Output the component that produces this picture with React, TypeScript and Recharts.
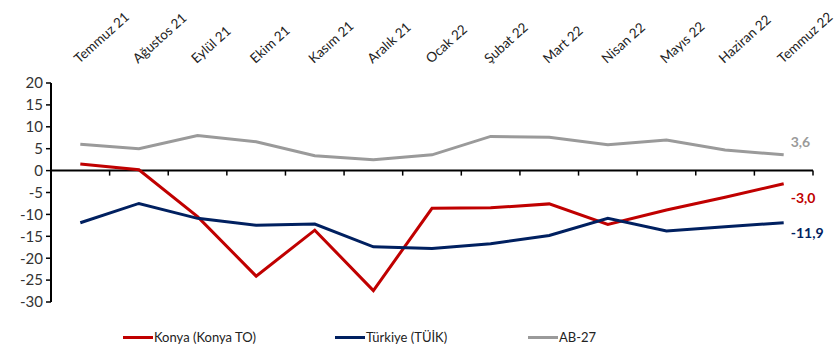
import React from "react";
import {
  LineChart,
  Line,
  XAxis,
  YAxis,
  ReferenceLine,
  LabelList,
  Legend,
} from "recharts";

// months, Temmuz 21 .. Temmuz 22
const months = [
  "Temmuz 21", "Ağustos 21", "Eylül 21", "Ekim 21", "Kasım 21", "Aralık 21",
  "Ocak 22", "Şubat 22", "Mart 22", "Nisan 22", "Mayıs 22", "Haziran 22", "Temmuz 22",
];

const konya = [1.5, 0.2, -10.5, -24.1, -13.6, -27.4, -8.6, -8.5, -7.6, -12.3, -9.0, -6.1, -3.0];
const turkiye = [-11.9, -7.5, -10.9, -12.5, -12.2, -17.4, -17.8, -16.7, -14.8, -10.9, -13.8, -12.8, -11.9];
const ab27 = [6.0, 5.0, 8.0, 6.6, 3.4, 2.5, 3.6, 7.8, 7.6, 5.9, 7.0, 4.7, 3.6];

const yTicks = [-30, -25, -20, -15, -10, -5, 0, 5, 10, 15, 20];

const RED = "#C00000";
const NAVY = "#002060";
const GRAY = "#9A9A9A";
const FONT = "Lato, 'Open Sans', sans-serif";

const series = [
  { key: "konya", name: "Konya (Konya TO)", color: RED, values: konya, dy: 14 },
  { key: "turkiye", name: "Türkiye (TÜİK)", color: NAVY, values: turkiye, dy: 10 },
  { key: "ab27", name: "AB-27", color: GRAY, values: ab27, dy: -13 },
];

const data = months.map((m, i) => ({
  month: m,
  konya: konya[i],
  turkiye: turkiye[i],
  ab27: ab27[i],
}));

const fmt = (v: number) => v.toFixed(1).replace(".", ",");

const MonthTick = (props: any) => {
  const { x, y, payload } = props;
  const tx = x - 1;
  const ty = y - 19;
  return (
    <text
      x={tx}
      y={ty}
      transform={`rotate(-42, ${tx}, ${ty})`}
      textAnchor="start"
      fontSize={13.5}
      fontFamily={FONT}
      fill="#222"
    >
      {payload.value}
    </text>
  );
};

// zero line with small tick marks at the category boundaries
const ZeroLine = (props: any) => {
  const { x1, y1, x2 } = props;
  const step = (x2 - x1) / months.length;
  return (
    <g>
      <line x1={x1} y1={y1} x2={x2} y2={y1} stroke="#000" strokeWidth={2} />
      {months.map((_, i) => (
        <line
          key={i}
          x1={x1 + step * (i + 1)}
          x2={x1 + step * (i + 1)}
          y1={y1}
          y2={y1 + 5}
          stroke="#000"
          strokeWidth={1.5}
        />
      ))}
    </g>
  );
};

const endLabel = (color: string, dy: number) => (props: any) => {
  const { x, y, value, index } = props;
  if (index !== months.length - 1) return null;
  return (
    <text
      x={x + 7}
      y={y + dy}
      dominantBaseline="central"
      fontSize={14}
      fontWeight="bold"
      fontFamily={FONT}
      fill={color}
    >
      {fmt(value)}
    </text>
  );
};

const widths = [212, 193, 80];

const CustomLegend = () => (
  <div style={{ display: "flex", fontFamily: FONT, fontSize: 13, color: "#222" }}>
    {series.map((s, i) => (
      <div key={s.key} style={{ width: widths[i], display: "flex", alignItems: "center" }}>
        <span style={{ display: "inline-block", width: 30, height: 3, background: s.color, marginRight: 1 }} />
        <span>{s.name}</span>
      </div>
    ))}
  </div>
);

export default function App() {
  return (
    <div style={{ position: "absolute", left: 0, top: 0, width: 836, height: 353, background: "#fff" }}>
      <LineChart
        width={836}
        height={353}
        data={data}
        margin={{ top: 0, right: 23, bottom: 35, left: 6 }}
      >
        <XAxis
          dataKey="month"
          orientation="top"
          scale="band"
          height={83}
          axisLine={false}
          tickLine={false}
          tickSize={0}
          tickMargin={0}
          interval={0}
          tick={<MonthTick />}
        />
        <YAxis
          domain={[-30, 20]}
          ticks={yTicks}
          interval={0}
          width={45}
          axisLine={{ stroke: "#000", strokeWidth: 2 }}
          tickLine={{ stroke: "#000", strokeWidth: 1.5 }}
          tickSize={5}
          tickMargin={3}
          tick={{ fill: "#333", fontSize: 15, fontFamily: FONT }}
        />
        <ReferenceLine y={0} shape={<ZeroLine />} />
        <Legend
          verticalAlign="bottom"
          content={<CustomLegend />}
          wrapperStyle={{ left: 123, bottom: 8, width: 500 }}
        />
        {series.map((s) => (
          <Line
            key={s.key}
            dataKey={s.key}
            name={s.name}
            type="linear"
            stroke={s.color}
            strokeWidth={3}
            dot={false}
            isAnimationActive={false}
          >
            <LabelList dataKey={s.key} content={endLabel(s.color, s.dy)} />
          </Line>
        ))}
      </LineChart>
    </div>
  );
}
